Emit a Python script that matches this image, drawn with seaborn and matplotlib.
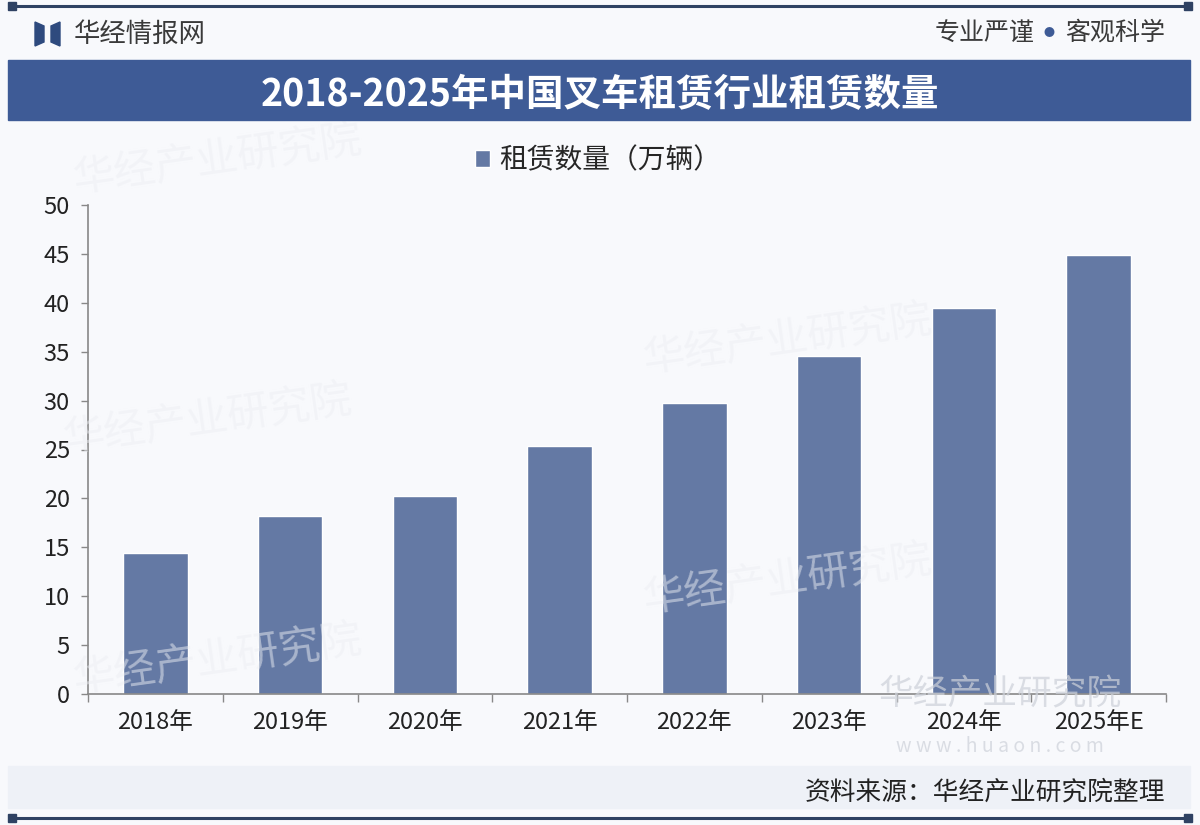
import seaborn as sns
import matplotlib.pyplot as plt
import pandas as pd
from matplotlib.patches import Rectangle, Polygon
from matplotlib.lines import Line2D

# data
years = ['2018年', '2019年', '2020年', '2021年', '2022年', '2023年', '2024年', '2025年E']
rental = [14.4, 18.2, 20.2, 25.4, 29.8, 34.6, 39.5, 44.9]
series_name = '租赁数量（万辆）'
title = '2018-2025年中国叉车租赁行业租赁数量'
source = '资料来源：华经产业研究院整理'

sns.set_theme(style='white')
plt.rcParams['font.family'] = ['Noto Sans CJK SC', 'DejaVu Sans']

bar_color = '#6479A4'
navy = '#3E5B96'
W, H = 1200, 825

fig = plt.figure(figsize=(12, 8.25), dpi=100)
fig.patch.set_facecolor('#F8F9FC')

def fx(px):
    return px / W

def fy(py):
    return 1 - py / H

# top and bottom rules with end dots
for py in (6, 818):
    fig.add_artist(Line2D([fx(12), fx(1188)], [fy(py), fy(py)], color='#2F4263', lw=2.2,
                          transform=fig.transFigure))
    for px in (12, 1188):
        fig.add_artist(Line2D([fx(px)], [fy(py)], marker='s', ms=6, color='#2F4263',
                              transform=fig.transFigure))

# header logo
fig.add_artist(Polygon([[fx(35), fy(22)], [fx(44), fy(26)], [fx(44), fy(42)], [fx(35), fy(46)]],
                       closed=True, color='#2E4A7E', transform=fig.transFigure))
fig.add_artist(Polygon([[fx(60), fy(22)], [fx(51), fy(26)], [fx(51), fy(42)], [fx(60), fy(46)]],
                       closed=True, color='#2E4A7E', transform=fig.transFigure))
fig.text(fx(74), fy(34), '华经情报网', fontsize=19, color='#3A3A3A', va='center', ha='left')
fig.text(fx(1165), fy(33), '客观科学', fontsize=18, color='#3A3A3A', va='center', ha='right')
fig.text(fx(1049), fy(33), '●', fontsize=8, color='#3E5B96', va='center', ha='center')
fig.text(fx(1035), fy(33), '专业严谨', fontsize=18, color='#3A3A3A', va='center', ha='right')

# title band
fig.add_artist(Rectangle((fx(8), fy(120)), fx(1182), 60 / H, color=navy,
                         transform=fig.transFigure))
fig.text(0.5, fy(95), title, fontsize=27, fontweight='bold', color='white',
         ha='center', va='center')

# footer band
fig.add_artist(Rectangle((fx(8), fy(808)), fx(1182), 42 / H, color='#EEF1F7',
                         transform=fig.transFigure))
fig.text(fx(1165), fy(793), source, fontsize=18.5, color='#222222', ha='right', va='center')

# faint watermarks
for (px, py) in [(70, 160), (640, 340), (60, 420), (640, 580), (70, 660)]:
    fig.text(fx(px), fy(py), '华经产业研究院', fontsize=30, color='#ECEEF3', alpha=0.5,
             rotation=8, ha='left', va='center', zorder=0)

# chart
ax = fig.add_axes([fx(88), fy(694), fx(1166 - 88), (694 - 205) / H])
ax.set_facecolor('none')
df = pd.DataFrame({'year': years, 'value': rental})
sns.barplot(data=df, x='year', y='value', color=bar_color, width=0.48, ax=ax,
            saturation=1, label=series_name)

ax.set_ylim(0, 50)
ax.set_xlim(-0.5, len(years) - 0.5)
ax.set_yticks(range(0, 51, 5))
ax.set_xlabel('')
ax.set_ylabel('')
ax.tick_params(axis='y', labelsize=17, colors='#222222', length=5, width=1, color='#888888',
               left=True, pad=8)
ax.tick_params(axis='x', labelsize=17, colors='#222222', length=0, pad=12)
ax.set_xticks([i - 0.5 for i in range(len(years) + 1)], minor=True)
ax.tick_params(axis='x', which='minor', length=6, width=1, color='#888888', bottom=True)
for s in ('top', 'right'):
    ax.spines[s].set_visible(False)
for s in ('left', 'bottom'):
    ax.spines[s].set_color('#888888')
    ax.spines[s].set_linewidth(1.2)

ax.legend(loc='center', bbox_to_anchor=(fx(598), fy(160)), bbox_transform=fig.transFigure,
          frameon=False, fontsize=20, handlelength=0.55, handleheight=0.55, handletextpad=0.3)

# bottom-right watermark
fig.text(fx(1000), fy(695), '华经产业研究院', fontsize=25, color='#CDD1D9', alpha=0.7,
         ha='center', va='center')
fig.text(fx(1000), fy(746), 'w w w . h u a o n . c o m', fontsize=14, color='#CDD1D9', alpha=0.7,
         ha='center', va='center')

fig.savefig('out.png', dpi=100, facecolor=fig.get_facecolor())
